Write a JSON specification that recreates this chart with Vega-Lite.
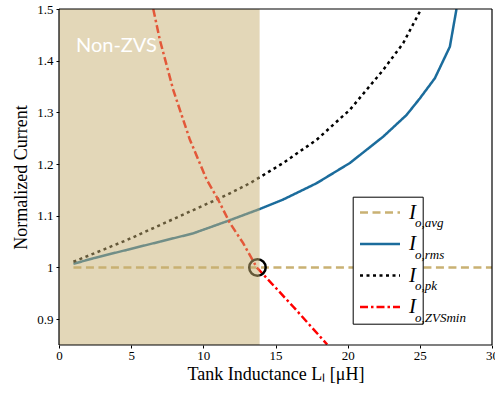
{
  "$schema": "https://vega.github.io/schema/vega-lite/v6.json",
  "width": 433,
  "height": 336,
  "autosize": "none",
  "padding": {"left": 59, "top": 9, "right": 3, "bottom": 48},
  "background": "white",
  "config": {
    "view": {"stroke": null},
    "axis": {
      "grid": false,
      "domain": false,
      "tickColor": "black",
      "labelColor": "black",
      "titleColor": "black",
      "labelFont": "Liberation Serif",
      "titleFont": "Liberation Serif",
      "labelFontSize": 13,
      "titleFontSize": 18,
      "titleFontWeight": "normal",
      "tickSize": 3,
      "tickWidth": 1,
      "labelFlush": false
    }
  },
  "datasets": {
    "curves": [
      {"L": 1, "I": 1.0, "series": "Io,avg", "sub": "o,avg"},
      {"L": 30, "I": 1.0, "series": "Io,avg", "sub": "o,avg"},
      {"L": 1, "I": 1.007, "series": "Io,rms", "sub": "o,rms"},
      {"L": 2.4, "I": 1.018, "series": "Io,rms", "sub": "o,rms"},
      {"L": 4.7, "I": 1.034, "series": "Io,rms", "sub": "o,rms"},
      {"L": 7, "I": 1.05, "series": "Io,rms", "sub": "o,rms"},
      {"L": 9.3, "I": 1.066, "series": "Io,rms", "sub": "o,rms"},
      {"L": 11.6, "I": 1.089, "series": "Io,rms", "sub": "o,rms"},
      {"L": 13.9, "I": 1.113, "series": "Io,rms", "sub": "o,rms"},
      {"L": 15.5, "I": 1.131, "series": "Io,rms", "sub": "o,rms"},
      {"L": 17.85, "I": 1.163, "series": "Io,rms", "sub": "o,rms"},
      {"L": 20.15, "I": 1.202, "series": "Io,rms", "sub": "o,rms"},
      {"L": 22.46, "I": 1.253, "series": "Io,rms", "sub": "o,rms"},
      {"L": 24.08, "I": 1.295, "series": "Io,rms", "sub": "o,rms"},
      {"L": 25.0, "I": 1.327, "series": "Io,rms", "sub": "o,rms"},
      {"L": 26.04, "I": 1.366, "series": "Io,rms", "sub": "o,rms"},
      {"L": 27.08, "I": 1.427, "series": "Io,rms", "sub": "o,rms"},
      {"L": 27.54, "I": 1.5, "series": "Io,rms", "sub": "o,rms"},
      {"L": 1, "I": 1.011, "series": "Io,pk", "sub": "o,pk"},
      {"L": 4.7, "I": 1.053, "series": "Io,pk", "sub": "o,pk"},
      {"L": 7, "I": 1.082, "series": "Io,pk", "sub": "o,pk"},
      {"L": 9.3, "I": 1.111, "series": "Io,pk", "sub": "o,pk"},
      {"L": 11.6, "I": 1.14, "series": "Io,pk", "sub": "o,pk"},
      {"L": 13.23, "I": 1.163, "series": "Io,pk", "sub": "o,pk"},
      {"L": 15.53, "I": 1.202, "series": "Io,pk", "sub": "o,pk"},
      {"L": 17.85, "I": 1.247, "series": "Io,pk", "sub": "o,pk"},
      {"L": 20.15, "I": 1.305, "series": "Io,pk", "sub": "o,pk"},
      {"L": 22.46, "I": 1.382, "series": "Io,pk", "sub": "o,pk"},
      {"L": 23.85, "I": 1.434, "series": "Io,pk", "sub": "o,pk"},
      {"L": 25.0, "I": 1.495, "series": "Io,pk", "sub": "o,pk"},
      {"L": 6.53, "I": 1.5, "series": "Io,ZVSmin", "sub": "o,ZVSmin"},
      {"L": 6.99, "I": 1.44, "series": "Io,ZVSmin", "sub": "o,ZVSmin"},
      {"L": 7.92, "I": 1.343, "series": "Io,ZVSmin", "sub": "o,ZVSmin"},
      {"L": 9.07, "I": 1.247, "series": "Io,ZVSmin", "sub": "o,ZVSmin"},
      {"L": 10.23, "I": 1.17, "series": "Io,ZVSmin", "sub": "o,ZVSmin"},
      {"L": 11.03, "I": 1.131, "series": "Io,ZVSmin", "sub": "o,ZVSmin"},
      {"L": 11.84, "I": 1.086, "series": "Io,ZVSmin", "sub": "o,ZVSmin"},
      {"L": 12.76, "I": 1.047, "series": "Io,ZVSmin", "sub": "o,ZVSmin"},
      {"L": 13.7, "I": 1.0, "series": "Io,ZVSmin", "sub": "o,ZVSmin"},
      {"L": 16.2, "I": 0.925, "series": "Io,ZVSmin", "sub": "o,ZVSmin"},
      {"L": 18.58, "I": 0.851, "series": "Io,ZVSmin", "sub": "o,ZVSmin"}
    ]
  },
  "layer": [
    {
      "data": {"name": "curves"},
      "mark": {"type": "line", "strokeWidth": 2.5, "clip": true},
      "encoding": {
        "x": {
          "field": "L", "type": "quantitative",
          "scale": {"domain": [0, 30], "nice": false, "zero": false},
          "axis": {"orient": "bottom", "values": [0, 5, 10, 15, 20, 25, 30], "labelPadding": 1, "labelColor": "black", "title": "Tank Inductance  Lₗ [μH]", "titlePadding": 3}
        },
        "y": {
          "field": "I", "type": "quantitative",
          "scale": {"domain": [0.85, 1.5], "nice": false, "zero": false},
          "axis": {"orient": "left", "values": [0.9, 1, 1.1, 1.2, 1.3, 1.4, 1.5], "format": "~g", "labelPadding": 3, "labelColor": "black", "title": "Normalized Current", "titlePadding": 6}
        },
        "color": {
          "field": "series", "type": "nominal",
          "scale": {"domain": ["Io,avg", "Io,rms", "Io,pk", "Io,ZVSmin"], "range": ["#C9B173", "#1B6C9C", "#000000", "#FF0000"]},
          "legend": {"orient": "none", "legendX": 293.7, "legendY": 187.7, "title": null, "symbolType": "stroke", "symbolSize": 1600, "symbolStrokeWidth": 2.5, "clipHeight": 20, "rowPadding": 10.5, "padding": 5.8, "labelOffset": 7.5, "labelFont": "Liberation Serif", "labelFontStyle": "italic", "labelFontSize": 21, "labelColor": "black", "labelExpr": "'I\u00a0\u00a0\u00a0\u00a0\u00a0\u00a0\u00a0\u00a0\u00a0\u00a0\u00a0'", "fillColor": "white", "strokeColor": "black"}
        },
        "strokeDash": {
          "field": "series", "type": "nominal",
          "scale": {"domain": ["Io,avg", "Io,rms", "Io,pk", "Io,ZVSmin"], "range": [[8, 4.5], [1, 0], [3, 3.5], [8, 3, 2.5, 3]]},
          "legend": {"orient": "none", "legendX": 293.7, "legendY": 187.7, "title": null, "symbolType": "stroke", "symbolSize": 1600, "symbolStrokeWidth": 2.5, "clipHeight": 20, "rowPadding": 10.5, "padding": 5.8, "labelOffset": 7.5, "labelFont": "Liberation Serif", "labelFontStyle": "italic", "labelFontSize": 21, "labelColor": "black", "labelExpr": "'I\u00a0\u00a0\u00a0\u00a0\u00a0\u00a0\u00a0\u00a0\u00a0\u00a0\u00a0'", "fillColor": "white", "strokeColor": "black"}
        },
        "opacity": {
          "field": "sub", "type": "nominal",
          "scale": {"domain": ["o,avg", "o,rms", "o,pk", "o,ZVSmin"], "range": [1, 1, 1, 1]},
          "legend": {"orient": "none", "legendX": 343, "legendY": 207.8, "title": null, "symbolType": "circle", "symbolSize": 0, "symbolStrokeWidth": 0, "symbolOpacity": 0, "clipHeight": 13, "rowPadding": 17.5, "padding": 0, "labelOffset": 0, "labelFont": "Liberation Serif", "labelFontStyle": "italic", "labelFontSize": 13, "labelColor": "black", "zindex": 1}
        }
      }
    },
    {
      "data": {"values": [{}]},
      "mark": {"type": "point", "shape": "circle", "size": 272, "strokeWidth": 2.5, "color": "black", "filled": false, "opacity": 1},
      "encoding": {
        "x": {"datum": 13.75, "type": "quantitative", "scale": {"domain": [0, 30], "nice": false, "zero": false}, "axis": null},
        "y": {"datum": 1.0, "type": "quantitative", "scale": {"domain": [0.85, 1.5], "nice": false, "zero": false}, "axis": null}
      }
    },
    {
      "data": {"values": [{}]},
      "mark": {"type": "rect", "color": "#C7B071", "opacity": 0.5},
      "encoding": {
        "x": {"datum": 0, "type": "quantitative", "scale": {"domain": [0, 30], "nice": false, "zero": false}, "axis": null},
        "x2": {"datum": 13.9}
      }
    },
    {
      "data": {"values": [{}]},
      "mark": {"type": "text", "text": "Non-ZVS", "color": "white", "font": "Lato", "fontSize": 20, "align": "left", "baseline": "middle"},
      "encoding": {
        "x": {"datum": 1.18, "type": "quantitative", "scale": {"domain": [0, 30], "nice": false, "zero": false}, "axis": null},
        "y": {"datum": 1.4275, "type": "quantitative", "scale": {"domain": [0.85, 1.5], "nice": false, "zero": false}, "axis": null}
      }
    },
    {
      "data": {"values": [{}]},
      "mark": {"type": "rule", "color": "black", "strokeWidth": 1.2},
      "encoding": {"x": {"datum": 0, "type": "quantitative", "scale": {"domain": [0, 30], "nice": false, "zero": false}, "axis": null}}
    },
    {
      "data": {"values": [{}]},
      "mark": {"type": "rule", "color": "black", "strokeWidth": 1.2},
      "encoding": {"x": {"datum": 30, "type": "quantitative", "scale": {"domain": [0, 30], "nice": false, "zero": false}, "axis": null}}
    },
    {
      "data": {"values": [{}]},
      "mark": {"type": "rule", "color": "black", "strokeWidth": 1.2},
      "encoding": {"y": {"datum": 0.85, "type": "quantitative", "scale": {"domain": [0.85, 1.5], "nice": false, "zero": false}, "axis": null}}
    },
    {
      "data": {"values": [{}]},
      "mark": {"type": "rule", "color": "black", "strokeWidth": 1.2},
      "encoding": {"y": {"datum": 1.5, "type": "quantitative", "scale": {"domain": [0.85, 1.5], "nice": false, "zero": false}, "axis": null}}
    }
  ],
  "resolve": {"axis": {"x": "independent", "y": "independent"}}
}
